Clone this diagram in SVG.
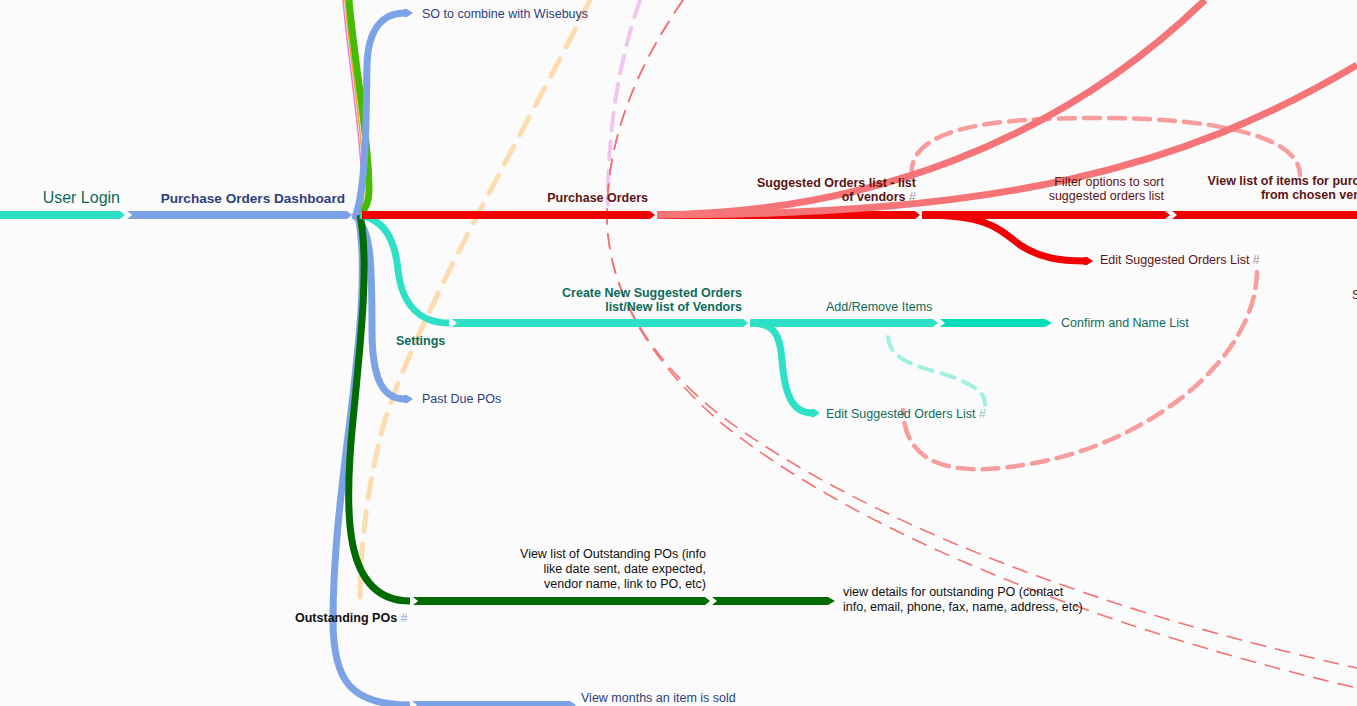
<svg xmlns="http://www.w3.org/2000/svg" width="1357" height="706" viewBox="0 0 1357 706">
<style>
text{font-family:"Liberation Sans",Arial,Helvetica,sans-serif;font-size:12.5px}
.b{font-weight:bold}
.teal{fill:#0e6b5c}.navy{fill:#2b3f7a}.red{fill:#5c1515}.blk{fill:#111}
.hg{fill:#999}.hb{fill:#7ba3e6}.ht{fill:#7ac8bc}
.c{fill:none;stroke-linecap:butt}
.dash{fill:none;stroke-linecap:round}
</style>
<rect width="1357" height="706" fill="#fbfbfb"/>
<g id="connectors">
  <!-- dashed background links -->
  <path class="dash" d="M590,0 C520,140 420,310 385,420 C365,490 360,560 360,600" stroke="#fddcb0" stroke-width="5" stroke-dasharray="20 13"/>
  <path class="dash" d="M640,0 C620,60 608,120 608,205" stroke="#f0c6f0" stroke-width="4" stroke-dasharray="18 11"/>
  <path class="c" d="M683,0 C635,70 607,140 607,215 C607,290 650,360 720,415 C860,520 1100,612 1357,668" stroke="#f47174" stroke-width="1.6" stroke-dasharray="16 9"/>
  <path class="c" d="M683,0 C635,70 607,140 607,215 C607,295 655,365 720,422 C860,535 1100,628 1357,688" stroke="#f47174" stroke-width="1.6" stroke-dasharray="16 9"/>
  <path class="dash" d="M912,178 C905,125 1000,118 1100,118 C1230,118 1300,140 1300,175" stroke="#f68c8c" stroke-opacity="0.85" stroke-width="4.5" stroke-dasharray="16 9"/>
  <path class="dash" d="M1257,272 C1255,360 1150,440 1040,462 C960,478 905,470 903,410" stroke="#f68c8c" stroke-opacity="0.85" stroke-width="4.5" stroke-dasharray="16 9"/>
  <path class="dash" d="M888,337 C890,365 930,368 955,378 C980,388 985,395 985,405" stroke="#a0f0e2" stroke-width="4" stroke-dasharray="14 9"/>

  <!-- top green bundle -->
  <path class="c" d="M343,0 C348,60 362,140 362,190 C362,205 357,213 352,215" stroke="#e080e0" stroke-width="1.5"/>
  <path class="c" d="M345,0 C350,60 364,140 364,190 C364,205 359,213 354,215" stroke="#f5a623" stroke-width="1.5"/>
  <path class="c" d="M349,0 C354,60 369,140 369,190 C369,205 363,213 357,215" stroke="#47bb00" stroke-width="7"/>

  <!-- blue branches -->
  <path class="c" d="M356,215 C367,180 366,110 367,65 C368,30 382,13 405,13" stroke="#7ba3e6" stroke-width="7"/>
  <polygon points="404,9 407,9 413,13 407,17 404,17" fill="#7ba3e6"/>
  <path class="c" d="M353,215 C371,225 372,260 372,330 C372,380 383,399 405,399" stroke="#7ba3e6" stroke-width="7"/>
  <polygon points="404,395 407,395 413,399 407,403 404,403" fill="#7ba3e6"/>
  <path class="c" d="M358,215 C367,260 361,330 350,420 C340,500 333,560 333,620 C333,680 350,705 410,705" stroke="#7ba3e6" stroke-width="7"/>
  <polygon points="412,701 570,701 576,705 570,709 412,709 417,705" fill="#7ba3e6"/>

  <!-- dark green branch -->
  <path class="c" d="M360,215 C369,260 362,330 353,420 C344,510 342,601 410,601" stroke="#006b00" stroke-width="7"/>
  <polygon points="413,597 705,597 710,601 705,605 413,605 418,601" fill="#006b00"/>
  <polygon points="712,597 828,597 835,601 828,605 712,605 717,601" fill="#006b00"/>

  <!-- teal branch -->
  <path class="c" d="M360,215 C385,220 395,240 398,270 C402,305 420,323 449,323" stroke="#2ee0c5" stroke-width="7"/>
  <polygon points="452,319 743,319 748,323 743,327 452,327 457,323" fill="#2ee0c5"/>
  <polygon points="750,319 933,319 938,323 933,327 750,327 755,323" fill="#2ee0c5"/>
  <polygon points="940,319 1045,319 1052,323 1045,327 940,327 945,323" fill="#00ddbb"/>
  <path class="c" d="M750,323 C775,323 780,335 782,360 C785,400 795,413 812,413" stroke="#2ee0c5" stroke-width="7"/>
  <polygon points="811,409 814,409 820,413 814,417 811,417" fill="#2ee0c5"/>

  <!-- main line -->
  <polygon points="0,211 120,211 125,215 120,219 0,219" fill="#2ee0c5"/>
  <polygon points="127,211 347,211 352,215 347,219 127,219 132,215" fill="#7ba3e6"/>
  <polygon points="362,211 650,211 655,215 650,219 362,219" fill="#f00000"/>
  <polygon points="657,211 915,211 920,215 915,219 657,219 662,215" fill="#f00000"/>
  <polygon points="922,211 1165,211 1170,215 1165,219 922,219 927,215" fill="#f00000"/>
  <polygon points="1172,211 1360,211 1360,219 1172,219 1177,215" fill="#f00000"/>
  <path class="c" d="M922,215 C990,215 1000,230 1020,245 C1040,258 1060,261 1085,261" stroke="#f00000" stroke-width="7"/>
  <polygon points="1084,257 1087,257 1093,261 1087,265 1084,265" fill="#f00000"/>

  <!-- pink lines -->
  <path class="c" d="M657,215 C870,213 1060,140 1205,0" stroke="#f47477" stroke-width="7"/>
  <path class="c" d="M657,215 C1000,215 1180,170 1357,65" stroke="#f47477" stroke-width="7"/>
</g>

<g id="n-user-login"><text x="120" y="203" text-anchor="end" class="teal" style="font-size:16px">User Login</text></g>
<g id="n-dashboard"><text x="345" y="202.5" text-anchor="end" class="b navy" style="font-size:13.6px">Purchase Orders Dashboard</text></g>
<g id="n-purchase-orders"><text x="648" y="201.5" text-anchor="end" class="b red">Purchase Orders</text></g>
<g id="n-suggested-list"><text x="916" y="187" text-anchor="end" class="b red">Suggested Orders list - list</text><text x="916" y="201" text-anchor="end" class="b red">of vendors <tspan class="hg" style="font-weight:normal">#</tspan></text></g>
<g id="n-filter"><text x="1164" y="186" text-anchor="end" class="red">Filter options to sort</text><text x="1164" y="200" text-anchor="end" class="red">suggested orders list</text></g>
<g id="n-view-items"><text x="1388" y="185" text-anchor="end" class="b red">View list of items for purchase</text><text x="1388" y="199" text-anchor="end" class="b red">from chosen vendors</text></g>
<g id="n-edit-red"><text x="1100" y="264" class="red">Edit Suggested Orders List <tspan class="hg">#</tspan></text></g>
<g id="n-s"><text x="1352" y="299" class="red">S</text></g>
<g id="n-create"><text x="742" y="297" text-anchor="end" class="b teal">Create New Suggested Orders</text><text x="742" y="311" text-anchor="end" class="b teal">list/New list of Vendors</text></g>
<g id="n-add-remove"><text x="826" y="311" class="teal">Add/Remove Items</text></g>
<g id="n-confirm"><text x="1061" y="327" class="teal">Confirm and Name List</text></g>
<g id="n-settings"><text x="396" y="345" class="b teal">Settings</text></g>
<g id="n-edit-teal"><text x="826" y="418" class="teal">Edit Suggested Orders List <tspan class="ht">#</tspan></text></g>
<g id="n-so-combine"><text x="422" y="17.5" class="navy">SO to combine with Wisebuys</text></g>
<g id="n-past-due"><text x="422" y="403" class="navy">Past Due POs</text></g>
<g id="n-view-outstanding"><text x="706" y="558" text-anchor="end" class="blk">View list of Outstanding POs (info</text><text x="706" y="573" text-anchor="end" class="blk">like date sent, date expected,</text><text x="706" y="588" text-anchor="end" class="blk">vendor name, link to PO, etc)</text></g>
<g id="n-outstanding"><text x="295" y="622" class="b blk">Outstanding POs <tspan class="hb" style="font-weight:normal">#</tspan></text></g>
<g id="n-details"><text x="843" y="596" class="blk">view details for outstanding PO (contact</text><text x="843" y="611" class="blk">info, email, phone, fax, name, address, etc)</text></g>
<g id="n-months"><text x="581" y="702" class="navy">View months an item is sold</text></g>
</svg>
